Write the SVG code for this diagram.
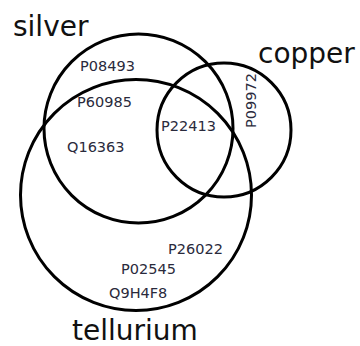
<svg xmlns="http://www.w3.org/2000/svg" width="360" height="346" viewBox="0 0 360 346">
<style>
.c{fill:none;stroke:#000;stroke-width:3}
.t{font-family:"DejaVu Sans",sans-serif;font-size:28px;fill:#111}
.l{font-family:"DejaVu Sans",sans-serif;font-size:14.5px;fill:#2a2a3c}
</style>
<rect width="360" height="346" fill="#fff"/>
<g id="connectors"></g>
<g id="silver">
<circle class="c" cx="138.5" cy="128.5" r="94.5"/>
<text class="t" x="13" y="36">silver</text>
</g>
<g id="copper">
<circle class="c" cx="224" cy="130" r="67"/>
<text class="t" x="258" y="63">copper</text>
</g>
<g id="tellurium">
<circle class="c" cx="136" cy="195" r="115.5"/>
<text class="t" x="72" y="340">tellurium</text>
</g>
<g id="labels">
<text class="l" x="80" y="71">P08493</text>
<text class="l" x="77" y="107">P60985</text>
<text class="l" x="67" y="152">Q16363</text>
<text class="l" x="161" y="131">P22413</text>
<text class="l" transform="translate(256,128) rotate(-90)">P09972</text>
<text class="l" x="168" y="254">P26022</text>
<text class="l" x="121" y="274">P02545</text>
<text class="l" x="109" y="298">Q9H4F8</text>
</g>
</svg>
